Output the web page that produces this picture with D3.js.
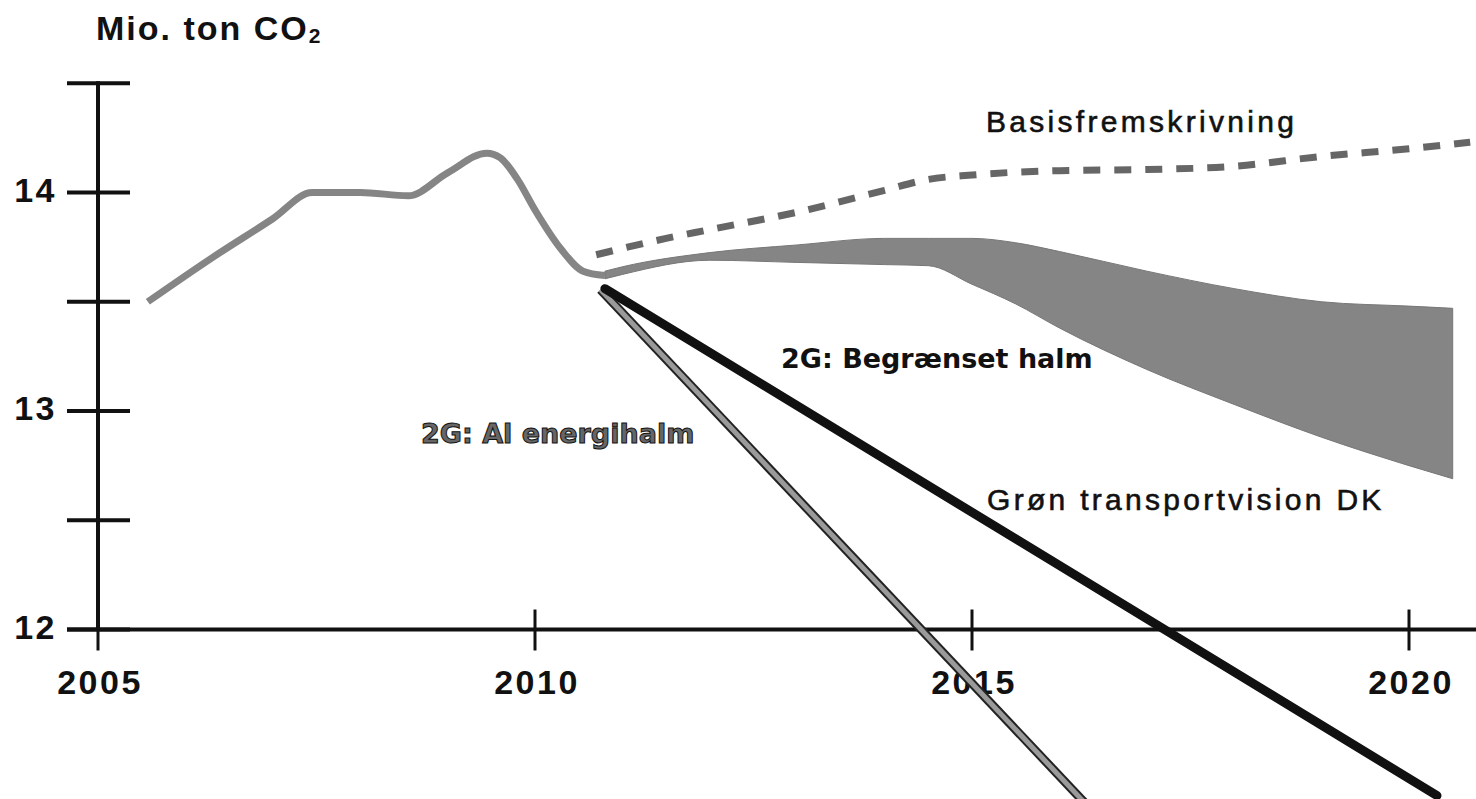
<!DOCTYPE html>
<html>
<head>
<meta charset="utf-8">
<script src="https://cdn.jsdelivr.net/npm/d3@7"></script>
<style>
  body { margin: 0; background: #fff; }
  svg { display: block; }
  .tick-lbl { font-family: "Liberation Sans", Arial, sans-serif; font-weight: bold; font-size: 34px; letter-spacing: 2.5px; fill: #111; }
  .title { font-family: "Liberation Sans", Arial, sans-serif; font-weight: bold; font-size: 34px; letter-spacing: 2px; fill: #111; }
  .lbl { font-family: "Liberation Sans", Arial, sans-serif; font-size: 30px; letter-spacing: 3.3px; fill: #111; stroke: #111; stroke-width: 0.6px; }
  .lbl2g { font-family: "DejaVu Sans", sans-serif; font-weight: bold; font-size: 27px; }
</style>
</head>
<body>
<script>
var width = 1476,
  height = 799;

// historisk udvikling
var histYears = [2005.57, 2006.3, 2007.0, 2007.45, 2008.0, 2008.55, 2009.0, 2009.45, 2009.6, 2009.8, 2010.0, 2010.3, 2010.55, 2010.8];
var histValues = [13.5, 13.7, 13.88, 14.0, 14.0, 13.985, 14.09, 14.18, 14.16, 14.06, 13.92, 13.74, 13.64, 13.62];

// Basisfremskrivning (stiplet)
var basisYears = [2010.7, 2011.5, 2012, 2013, 2014, 2014.5, 2015, 2016, 2017, 2018, 2019, 2020, 2020.7];
var basisValues = [13.715, 13.79, 13.83, 13.91, 14.01, 14.06, 14.08, 14.10, 14.105, 14.12, 14.165, 14.20, 14.23];

// Grøn transportvision DK (bånd)
var bandYears = [2010.8, 2011, 2012, 2013, 2014, 2014.5, 2015, 2015.5, 2016, 2017, 2018, 2019, 2020, 2020.5];
var bandHigh = [13.64, 13.66, 13.725, 13.76, 13.79, 13.79, 13.79, 13.77, 13.73, 13.64, 13.56, 13.50, 13.48, 13.47];
var bandLow = [13.605, 13.625, 13.69, 13.68, 13.67, 13.665, 13.58, 13.49, 13.38, 13.19, 13.03, 12.88, 12.75, 12.69];

// 2G scenarier
var begrYears = [2010.8, 2020.32];
var begrValues = [13.56, 11.24];
var alYears = [2010.75, 2016.4];
var alValues = [13.555, 11.16];

var yTicks = [12, 12.5, 13, 13.5, 14, 14.5];
var yLabels = [12, 13, 14];
var xTicks = [2005, 2010, 2015, 2020];

var svg = d3.select("body").append("svg")
  .attr("width", width)
  .attr("height", height);

var x = d3.scaleLinear().domain([2005, 2020]).range([98, 1409]);
var y = d3.scaleLinear().domain([12, 14]).range([629.5, 192.5]);

var zip = (xs, vs) => xs.map((d, i) => [d, vs[i]]);

var line = d3.line()
  .x(d => x(d[0]))
  .y(d => y(d[1]));

// bånd
var area = d3.area()
  .x(d => x(d.yr))
  .y0(d => y(d.lo))
  .y1(d => y(d.hi))
  .curve(d3.curveMonotoneX);

svg.append("path")
  .datum(bandYears.map((d, i) => ({ yr: d, hi: bandHigh[i], lo: bandLow[i] })))
  .attr("fill", "#858585")
  .attr("stroke", "#777")
  .attr("stroke-width", 1)
  .attr("d", area);

// historisk linje
svg.append("path")
  .datum(zip(histYears, histValues))
  .attr("fill", "none")
  .attr("stroke", "#858585")
  .attr("stroke-width", 7)
  .attr("stroke-linejoin", "round")
  .attr("d", line.curve(d3.curveMonotoneX));

// stiplet basis
svg.append("path")
  .datum(zip(basisYears, basisValues))
  .attr("fill", "none")
  .attr("stroke", "#666")
  .attr("stroke-width", 7)
  .attr("stroke-dasharray", "17 14")
  .attr("d", line.curve(d3.curveMonotoneX));

line.curve(d3.curveLinear);

// akser
var axis = svg.append("g").attr("stroke", "#111");

axis.append("line")
  .attr("x1", x(2005)).attr("x2", x(2005))
  .attr("y1", y(14.5) - 2).attr("y2", y(12))
  .attr("stroke-width", 4);

axis.selectAll(".ytick")
  .data(yTicks)
  .enter().append("line")
  .attr("class", "ytick")
  .attr("x1", 67).attr("x2", 130)
  .attr("y1", d => y(d)).attr("y2", d => y(d))
  .attr("stroke-width", 4);

axis.append("line")
  .attr("x1", 67).attr("x2", width)
  .attr("y1", y(12)).attr("y2", y(12))
  .attr("stroke-width", 4);

axis.selectAll(".xtick")
  .data(xTicks)
  .enter().append("line")
  .attr("class", "xtick")
  .attr("x1", d => x(d)).attr("x2", d => x(d))
  .attr("y1", y(12) - 20).attr("y2", y(12) + 21)
  .attr("stroke-width", 3);

svg.selectAll(".ylbl")
  .data(yLabels)
  .enter().append("text")
  .attr("class", "tick-lbl")
  .attr("x", 57)
  .attr("y", d => y(d) + 9)
  .attr("text-anchor", "end")
  .text(d => d);

svg.selectAll(".xlbl")
  .data(xTicks)
  .enter().append("text")
  .attr("class", "tick-lbl")
  .attr("x", d => x(d) + 2)
  .attr("y", 694)
  .attr("text-anchor", "middle")
  .text(d => d);

// 2G linjer
svg.append("path")
  .datum(zip(alYears, alValues))
  .attr("fill", "none")
  .attr("stroke", "#222")
  .attr("stroke-width", 9)
  .attr("d", line);
svg.append("path")
  .datum(zip(alYears, alValues))
  .attr("fill", "none")
  .attr("stroke", "#9a9a9a")
  .attr("stroke-width", 5)
  .attr("d", line);

svg.append("path")
  .datum(zip(begrYears, begrValues))
  .attr("fill", "none")
  .attr("stroke", "#111")
  .attr("stroke-width", 9)
  .attr("stroke-linecap", "round")
  .attr("d", line);

// tekster
var title = svg.append("text")
  .attr("class", "title")
  .attr("x", 96)
  .attr("y", 40);
title.append("tspan").text("Mio. ton CO");
title.append("tspan").attr("font-size", "21px").attr("dy", 3).text("2");

svg.append("text")
  .attr("class", "lbl")
  .attr("x", 986).attr("y", 132)
  .text("Basisfremskrivning");

svg.append("text")
  .attr("class", "lbl")
  .attr("x", 987).attr("y", 510)
  .text("Grøn transportvision DK");

svg.append("text")
  .attr("class", "lbl2g")
  .attr("x", 781).attr("y", 368)
  .attr("fill", "#111")
  .text("2G: Begrænset halm");

svg.append("text")
  .attr("class", "lbl2g")
  .attr("x", 421).attr("y", 443)
  .attr("fill", "#666")
  .attr("stroke", "#111")
  .attr("stroke-width", 1)
  .text("2G: Al energihalm");
</script>
</body>
</html>
